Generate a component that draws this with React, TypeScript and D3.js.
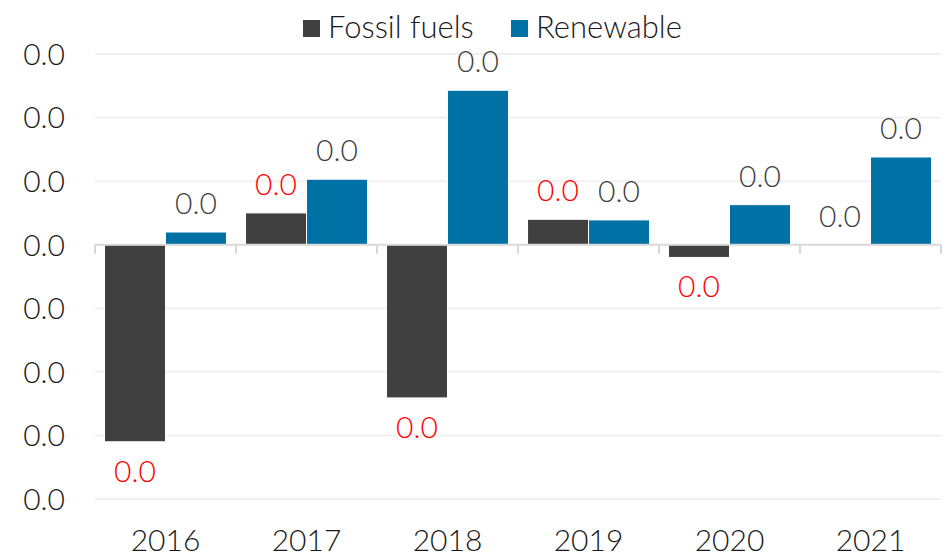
import React from "react"
import * as d3 from "d3"

// chart data
const years = ["2016", "2017", "2018", "2019", "2020", "2021"]
const fossil = [-0.031, 0.005, -0.0241, 0.004, -0.002, 0]
const renewable = [0.002, 0.0103, 0.0243, 0.0039, 0.0063, 0.0138]
const yTicks = [-0.04, -0.03, -0.02, -0.01, 0, 0.01, 0.02, 0.03]
const seriesNames = ["Fossil fuels", "Renewable"]

const W = 949
const H = 556
const FONT = "Lato, 'Open Sans', sans-serif"
const FS = 30

const App = () => {
	const marginLeft = 95
	const marginRight = 8
	const yTop = 54
	const yBottom = 499

	const x = d3
		.scaleBand()
		.domain(years)
		.range([marginLeft, W - marginRight])
		.paddingInner(0.135)
		.paddingOuter(0.0675)

	const x1 = d3.scaleBand().domain(seriesNames).range([0, x.bandwidth()]).padding(0)

	const y = d3.scaleLinear().domain([-0.04, 0.03]).range([yBottom, yTop])

	const fmt = d3.format(".1f")
	const colors = { "Fossil fuels": "#404040", Renewable: "#0071a5" }
	const step = x.step()
	const catEdges = d3.range(years.length + 1).map(i => marginLeft + i * step)

	const bars = years.flatMap((yr, i) =>
		[fossil[i], renewable[i]].map((v, j) => ({ yr, v, name: seriesNames[j] })),
	)

	return (
		<svg
			width={W}
			height={H}
			style={{ position: "absolute", left: 0, top: 0, fontFamily: FONT }}
		>
			<rect width={W} height={H} fill="#fff" />
			{/* gridlines */}
			{yTicks
				.filter(t => t !== 0)
				.map(t => (
					<line
						key={t}
						x1={marginLeft}
						x2={W - marginRight}
						y1={y(t)}
						y2={y(t)}
						stroke="#f0f0f0"
						strokeWidth={2}
					/>
				))}
			{/* y labels */}
			{yTicks.map(t => (
				<text
					key={"yl" + t}
					x={65}
					y={y(t)}
					dy="0.36em"
					textAnchor="end"
					fontSize={FS}
					fontWeight={300}
					fill="#1a1a1a"
				>
					{fmt(t)}
				</text>
			))}
			{/* bars */}
			{bars.map(d => (
				<rect
					key={d.yr + d.name}
					x={x(d.yr) + x1(d.name)}
					y={Math.min(y(d.v), y(0))}
					width={x1.bandwidth()}
					height={Math.abs(y(d.v) - y(0))}
					fill={colors[d.name]}
					stroke="#fff"
					strokeWidth={1}
				/>
			))}
			{/* zero axis with ticks */}
			<line
				x1={marginLeft}
				x2={W - marginRight}
				y1={y(0)}
				y2={y(0)}
				stroke="#d9d9d9"
				strokeWidth={2}
			/>
			{catEdges.map(cx => (
				<line
					key={"tk" + cx}
					x1={cx}
					x2={cx}
					y1={y(0)}
					y2={y(0) + 9}
					stroke="#d9d9d9"
					strokeWidth={2}
				/>
			))}
			{/* value labels */}
			{bars.map(d => {
				const cx = x(d.yr) + x1(d.name) + x1.bandwidth() / 2
				const below = d.v < 0
				const red = d.name === "Fossil fuels" && d.v !== 0
				return (
					<text
						key={"vl" + d.yr + d.name}
						x={cx}
						y={below ? y(d.v) + 40 : y(d.v) - 18}
						textAnchor="middle"
						fontSize={FS}
						fontWeight={300}
						fill={red ? "#ff0000" : "#404040"}
					>
						{fmt(d.v)}
					</text>
				)
			})}
			{/* x labels */}
			{years.map(yr => (
				<text
					key={"xl" + yr}
					x={x(yr) + x.bandwidth() / 2}
					y={551}
					textAnchor="middle"
					fontSize={FS}
					fontWeight={300}
					fill="#1a1a1a"
				>
					{yr}
				</text>
			))}
			{/* legend */}
			{seriesNames.map((name, i) => {
				const lx = [303, 511][i]
				return (
					<g key={"lg" + name}>
						<rect x={lx} y={20} width={17} height={17} fill={colors[name]} />
						<text
							x={lx + 25}
							y={38}
							fontSize={FS + 1}
							fontWeight={300}
							fill="#1a1a1a"
						>
							{name}
						</text>
					</g>
				)
			})}
		</svg>
	)
}

export default App
